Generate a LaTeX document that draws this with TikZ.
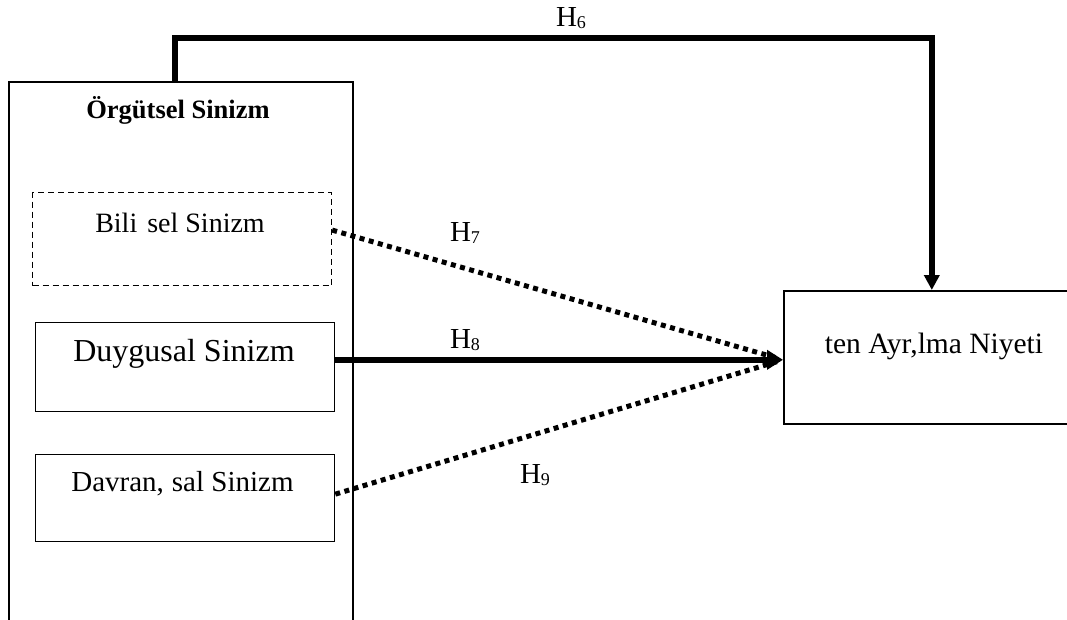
\documentclass[tikz,border=0pt]{standalone}
\usepackage{fontspec}
\setmainfont{Liberation Serif}
\usetikzlibrary{arrows.meta}
\newcommand{\hyp}[1]{H\raisebox{-2.5pt}{\fontsize{18}{18}\selectfont #1}}
\begin{document}
\begin{tikzpicture}[x=1pt,y=-1pt,
  box/.style={draw,line width=1.3pt,minimum width=299pt,inner sep=0pt,anchor=north west},
  bigbox/.style={draw,line width=1.6pt,inner sep=0pt,anchor=north west},
  thickline/.style={line width=5.5pt},
  dotline/.style={line width=5pt,dash pattern=on 5pt off 4.5pt},
  txt/.style={inner sep=0pt},
  lbl/.style={inner sep=0pt,font=\fontsize{29}{33}\selectfont}]
\useasboundingbox (0,0) rectangle (1067,619);
\clip (0,0) rectangle (1067,619);
% outer group box (open at the bottom, cut by the page)
\node[bigbox,minimum width=344pt,minimum height=620pt] (outer) at (8,81) {};
\node[txt,font=\bfseries\fontsize{26.5}{30}\selectfont] (title) at (178,110) {Örgütsel Sinizm};
% inner boxes
\node[box,line width=1.2pt,dash pattern=on 6pt off 4pt,minimum height=93pt] (bili) at (32,192) {};
\node[box,minimum height=89pt] (duy) at (35,322) {};
\node[box,minimum height=87pt] (dav) at (35,454) {};
\node[txt,font=\fontsize{28}{32}\selectfont] (bilit) at (180,222.5) {Bili\hspace{10pt}sel Sinizm};
\node[txt,font=\fontsize{32}{36}\selectfont] (duyt) at (184,353.5) {Duygusal Sinizm};
\node[txt,font=\fontsize{29}{33}\selectfont] (davt) at (182.5,484) {Davran,\hspace{8pt}sal Sinizm};
% target box
\node[bigbox,minimum width=308pt,minimum height=133pt] (tgt) at (783,290) {};
\node[txt,font=\fontsize{29.5}{33}\selectfont] (tgtt) at (934,346.5) {ten Ayr,lma Niyeti};
\coordinate (tip) at ([yshift=-2.5pt]tgt.west);
% connectors
\draw[thickline,-{Triangle[length=15pt,width=15pt]}] ([xshift=-6pt]outer.north) -- ++(0,-43) -| ([xshift=-6pt]tgt.north);
\draw[dotline,shorten >=4pt] ([yshift=9pt]bili.east) -- (tip);
\draw[thickline,-{Triangle[length=16pt,width=19pt]}] (duy.east |- tip) -- (tip);
\draw[dotline,shorten >=4pt] ([yshift=4pt]dav.east) -- (tip);
% labels
\node[lbl] (h6) at (571,18) {\hyp{6}};
\node[lbl] (h7) at (465,233) {\hyp{7}};
\node[lbl] (h8) at (465,340) {\hyp{8}};
\node[lbl] (h9) at (535,475) {\hyp{9}};
\end{tikzpicture}
\end{document}
